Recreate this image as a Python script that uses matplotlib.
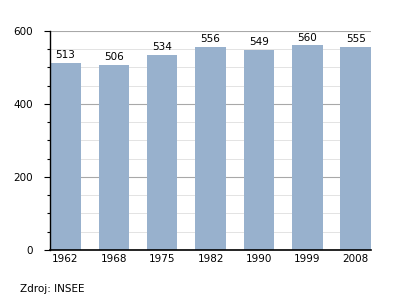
import numpy as np
import matplotlib
matplotlib.use('Agg')
import matplotlib.pyplot as plt

years = ['1962', '1968', '1975', '1982', '1990', '1999', '2008']
population = [513, 506, 534, 556, 549, 560, 555]

bar_color = '#98b1cd'

fig = plt.figure(figsize=(4, 3), dpi=100)
ax = fig.add_axes([0.125, 0.167, 0.803, 0.73])

x = np.arange(len(years))
ax.bar(x, population, width=0.63, color=bar_color, zorder=2)

for xi, v in zip(x, population):
    ax.text(xi, v + 8, str(v), ha='center', va='bottom', fontsize=7.5, zorder=3)

ax.set_xlim(-0.32, len(years) - 1 + 0.32)
ax.set_ylim(0, 600)
ax.set_xticks(x)
ax.set_xticklabels(years, fontsize=7.5)
ax.set_yticks([0, 200, 400, 600])
ax.set_yticks(np.arange(0, 601, 50), minor=True)
ax.tick_params(axis='y', labelsize=7.5, length=4, width=0.8, pad=8)
ax.tick_params(axis='y', which='minor', length=2.5, width=0.8)
ax.tick_params(axis='x', length=0, pad=3)

ax.grid(axis='y', which='major', color='#a8a8a8', linewidth=0.8, zorder=0)
ax.grid(axis='y', which='minor', color='#e3e3e3', linewidth=0.7, zorder=0)
ax.set_axisbelow(True)

for side in ['top', 'right']:
    ax.spines[side].set_visible(False)
ax.spines['left'].set_linewidth(1.0)
ax.spines['bottom'].set_linewidth(1.2)

fig.text(0.05, 0.035, 'Zdroj: INSEE', fontsize=7.5, ha='left', va='center')

fig.savefig('out.png', dpi=100)
